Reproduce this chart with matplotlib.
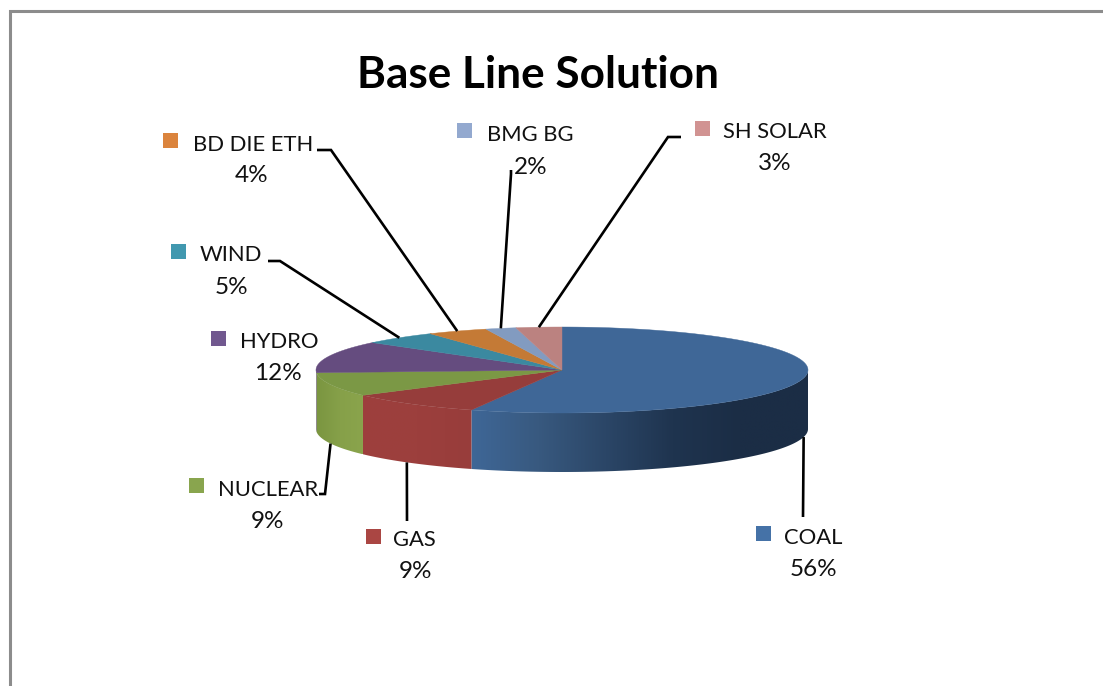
import numpy as np
import matplotlib
matplotlib.use("Agg")
import matplotlib.pyplot as plt
from matplotlib.colors import LinearSegmentedColormap
from matplotlib.patches import Polygon, Rectangle

plt.rcParams["font.family"] = ["Lato", "DejaVu Sans"]

# Energy mix, clockwise from twelve o'clock
names = ["COAL", "GAS", "NUCLEAR", "HYDRO", "WIND", "BD DIE ETH", "BMG BG", "SH SOLAR"]
shares = [56, 9, 9, 12, 5, 4, 2, 3]
top_colors = ["#3f6797", "#963d3b", "#7b9845", "#654c7f", "#3b89a0", "#c47a36", "#829bc0", "#bb8280"]
key_colors = ["#4572a7", "#aa4643", "#89a54e", "#71588f", "#4198af", "#db843d", "#93a9cf", "#d19392"]

# Pie geometry in pixels
CX, CY, RX, RY, DEPTH = 562, 370, 246, 43, 59

# Label layout: key centre, name left edge, name centre y, percent centre x, percent centre y
key_xy = [(763.5, 533), (373, 536), (196, 485), (218, 338), (178, 251), (170, 140), (464, 130), (702, 128)]
name_xy = [(784, 536), (393, 538), (218, 488), (240, 340), (200, 253), (193, 143), (487, 133), (723, 130)]
pct_xy = [(813, 567), (415, 570), (268, 520), (278, 372), (231, 285), (252, 174), (531, 165), (775, 162)]

# Leader elbows per slice; the first point on the rim is derived from the slice's mid angle
leaders = {
    0: [(803, 517)],
    1: [(407, 521)],
    2: [(325, 494), (319, 494)],
    4: [(280, 261), (268, 261)],
    5: [(331, 150), (317, 150)],
    6: [(511, 174), (511, 170)],
    7: [(668, 137), (681, 137)],
}
# Small angular shift of a leader's rim anchor, in degrees
leader_nudge = {1: 1.3}


def rim(t, dy=0.0):
    t = np.radians(t)
    return CX + RX * np.sin(t), CY - RY * np.cos(t) + dy


fig = plt.figure(figsize=(11.03, 6.86), dpi=100)
ax = fig.add_axes([0, 0, 1, 1])
ax.set_xlim(0, 1103)
ax.set_ylim(686, 0)
ax.axis("off")

# Chart frame, open towards the right and bottom of the canvas
ax.plot([10, 10, 1103], [686, 11, 11], color="#8c8c8c", lw=2.2, solid_joinstyle="miter", zorder=1)

edges = np.concatenate([[0], np.cumsum(shares)]) * 3.6

# Side wall of the slices facing the viewer
side_stops = {
    0: ["#3f6797", "#38597f", "#2b4667", "#1f344f", "#1b2d45", "#1b2d45"],
    1: ["#9e403d", "#9c3f3d", "#983d3b"],
    2: ["#7a9540", "#86a049", "#8aa44c"],
    3: ["#654c7f", "#654c7f"],
}
for i, stops in side_stops.items():
    a, b = max(edges[i], 90), min(edges[i + 1], 270)
    t = np.linspace(a, b, 200)
    xt, yt = rim(t)
    xb, yb = rim(t[::-1], DEPTH)
    poly = Polygon(np.column_stack([np.r_[xt, xb], np.r_[yt, yb]]), closed=True, fc="none", ec="none",
                   transform=ax.transData)
    ax.add_patch(poly)
    cmap = LinearSegmentedColormap.from_list(f"side{i}", stops)
    x0, x1 = min(xt.min(), xb.min()), max(xt.max(), xb.max())
    y0, y1 = min(yt.min(), yb.min()), max(yt.max(), yb.max())
    ramp = np.linspace(0, 1, 256)[None, :]
    im = ax.imshow(ramp, cmap=cmap, aspect="auto", interpolation="bilinear",
                   extent=[x0, x1, y1, y0], zorder=2)
    im.set_clip_path(poly)
ax.set_xlim(0, 1103)
ax.set_ylim(686, 0)

# Top face
for i in range(len(shares)):
    t = np.linspace(edges[i], edges[i + 1], 120)
    x, y = rim(t)
    ax.add_patch(Polygon(np.column_stack([np.r_[CX, x], np.r_[CY, y]]), closed=True,
                         fc=top_colors[i], ec=top_colors[i], lw=0.3, zorder=3))

# Leader lines
for i, pts in leaders.items():
    mid = (edges[i] + edges[i + 1]) / 2
    front = 90 < mid < 270
    x0, y0 = rim(mid + leader_nudge.get(i, 0), DEPTH if front else 0)
    xs = [x0] + [p[0] for p in pts]
    ys = [y0] + [p[1] for p in pts]
    ax.plot(xs, ys, color="black", lw=1.9, solid_joinstyle="miter", solid_capstyle="butt", zorder=4)

# Category labels
for i, name in enumerate(names):
    kx, ky = key_xy[i]
    ax.add_patch(Rectangle((kx - 7.5, ky - 7.5), 15, 15, fc=key_colors[i], ec="none", zorder=5))
    ax.text(*name_xy[i], name, fontsize=15.8, color="#111111", ha="left", va="center_baseline", zorder=5)
    ax.text(*pct_xy[i], f"{shares[i]}%", fontsize=17.5, color="#111111", ha="center", va="center_baseline", zorder=5)

ax.text(538, 72, "Base Line Solution", fontsize=31.8, fontweight="bold", color="black",
        ha="center", va="center_baseline", zorder=5)

fig.savefig("out.png", dpi=100)
